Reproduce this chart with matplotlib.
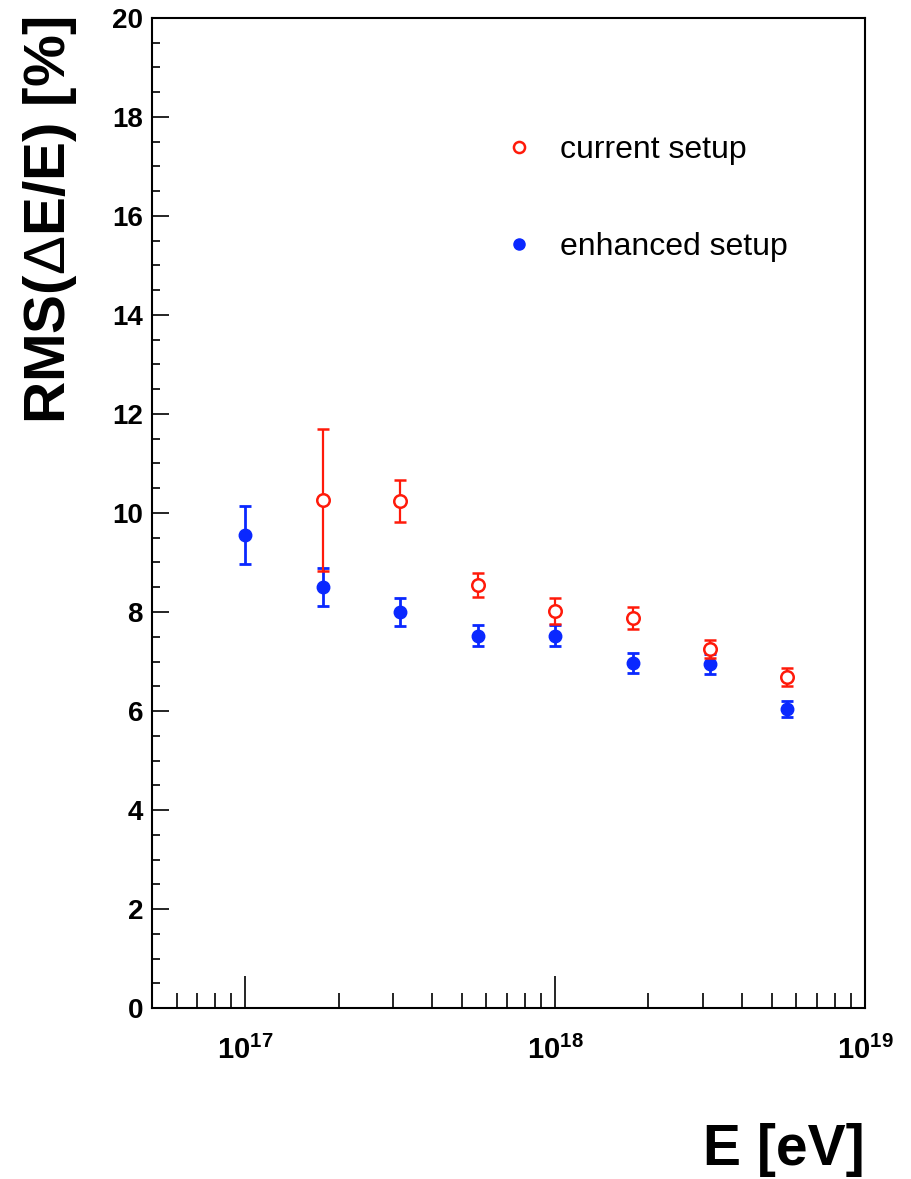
import math
import matplotlib
matplotlib.use("Agg")
import matplotlib.pyplot as plt
from matplotlib.lines import Line2D
from matplotlib.ticker import LogLocator, MultipleLocator, FuncFormatter, NullFormatter

plt.rcParams['font.family'] = ['Liberation Sans', 'DejaVu Sans']
plt.rcParams['mathtext.fontset'] = 'custom'
plt.rcParams['mathtext.rm'] = 'Liberation Sans'
plt.rcParams['mathtext.bf'] = 'Liberation Sans:bold'

# energies [eV]
energy = [1.0e17, 1.78e17, 3.16e17, 5.62e17, 1.0e18, 1.78e18, 3.16e18, 5.62e18]

# enhanced setup (filled blue)
enh_rms = [9.56, 8.51, 8.00, 7.52, 7.52, 6.97, 6.95, 6.04]
enh_err = [0.59, 0.38, 0.29, 0.21, 0.21, 0.20, 0.20, 0.17]

# current setup (open red), no point at 1e17
cur_energy = energy[1:]
cur_rms = [10.26, 10.24, 8.55, 8.02, 7.88, 7.25, 6.69]
cur_err = [1.44, 0.43, 0.24, 0.26, 0.22, 0.18, 0.18]

red = '#ff1a0a'
blue = '#0a28ff'

fig = plt.figure(figsize=(9.12, 11.79), dpi=100)
ax = fig.add_axes([0.1667, 0.145, 0.7818, 0.8398])

ax.errorbar(energy, enh_rms, yerr=enh_err, fmt='o', color=blue, ms=9,
            elinewidth=2, capsize=4.5, capthick=2, zorder=3)
ax.errorbar(cur_energy, cur_rms, yerr=cur_err, fmt='o', color=red, mfc='white',
            mec=red, mew=1.8, ms=9, elinewidth=1.6, capsize=4.5, capthick=2, zorder=4)

ax.set_xscale('log')
ax.set_xlim(5.0e16, 1.0e19)
ax.set_ylim(0, 20)

ax.yaxis.set_major_locator(MultipleLocator(2))
ax.yaxis.set_minor_locator(MultipleLocator(0.5))
ax.xaxis.set_major_locator(LogLocator(base=10, numticks=10))
ax.xaxis.set_minor_locator(LogLocator(base=10, subs=range(2, 10), numticks=20))
ax.xaxis.set_minor_formatter(NullFormatter())
ax.xaxis.set_major_formatter(FuncFormatter(
    lambda v, p: r'$\mathbf{10^{%d}}$' % round(math.log10(v))))

ax.tick_params(axis='both', which='both', direction='in', top=False, right=False, width=1.2)
ax.tick_params(axis='y', which='major', length=12, pad=6.5, labelsize=20)
ax.tick_params(axis='y', which='minor', length=6)
ax.tick_params(axis='x', which='major', length=23, pad=20, labelsize=21)
ax.tick_params(axis='x', which='minor', length=11)
for lab in ax.get_yticklabels():
    lab.set_fontweight('bold')
for sp in ax.spines.values():
    sp.set_linewidth(1.5)

# axis titles, ROOT style (top / right aligned)
fig.text(0.055, 0.813, r'RMS($\Delta$E/E) [%]', fontsize=42, fontweight='bold',
         rotation=90, ha='center', va='center')
fig.text(0.948, 0.012, 'E [eV]', fontsize=41, fontweight='bold',
         ha='right', va='baseline')

handles = [
    Line2D([], [], ls='none', marker='o', mfc='white', mec=red, mew=1.8, ms=8),
    Line2D([], [], ls='none', marker='o', color=blue, ms=8),
]
ax.legend(handles, ['current setup', 'enhanced setup'], loc='upper left',
          bbox_to_anchor=(0.492, 0.882), frameon=False, fontsize=23,
          labelspacing=2.1, handletextpad=0.8, handlelength=1.0,
          borderpad=0, borderaxespad=0)

fig.savefig('out.png', dpi=100)
